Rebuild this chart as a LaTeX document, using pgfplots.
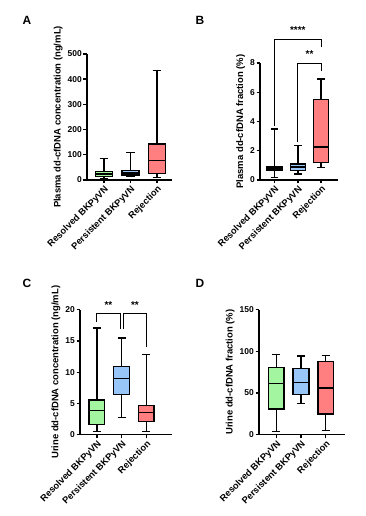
\documentclass[border=0pt]{standalone}
\usepackage{pgfplots}
\pgfplotsset{compat=1.18}
\usepgfplotslibrary{statistics}
\usepackage{fontspec}
\setmainfont{Liberation Sans}
\definecolor{cgreen}{HTML}{A3F5A0}
\definecolor{cblue}{HTML}{99C6F8}
\definecolor{cred}{HTML}{FF7F80}
\pgfplotsset{
  gp/.style={
    scale only axis,
    clip=false,
    axis x line*=bottom,
    axis y line*=left,
    axis line style={line width=1.5bp},
    every tick/.style={line width=1.4bp, black},
    tick align=outside,
    major tick length=3.5bp,
    xtick={1,2,3},
    xticklabels={Resolved BKPyVN,Persistent BKPyVN,Rejection},
    x tick label style={rotate=45, anchor=north east, font=\bfseries\fontsize{9.3}{10}\selectfont, inner sep=1bp},
    y tick label style={font=\bfseries\fontsize{8.5}{9}\selectfont, inner sep=1.5bp},
    /pgf/number format/assume math mode=true,
    ylabel style={font=\bfseries\fontsize{9.5}{11}\selectfont},
    ymin=0,
    boxplot/draw direction=y,
    boxplot/box extend=0.64,
    boxplot/whisker extend=0.32,
    every axis plot/.append style={line width=1.5bp, draw=black},
  }
}
\begin{document}
\begin{tikzpicture}
\path[use as bounding box] (0bp,0bp) rectangle (366bp,516bp);
\node[font=\bfseries\fontsize{12}{14}\selectfont] at (27bp,496bp) {A};
\node[font=\bfseries\fontsize{12}{14}\selectfont] at (200bp,496bp) {B};
\node[font=\bfseries\fontsize{12}{14}\selectfont] at (27bp,233bp) {C};
\node[font=\bfseries\fontsize{12}{14}\selectfont] at (200bp,233bp) {D};

% Panel A
\begin{axis}[gp, at={(87bp,336bp)}, anchor=south west, width=85bp, height=126bp,
  xmin=0.36, xmax=3.57, ymax=500, ytick={0,100,200,300,400,500},
  ylabel={Plasma dd-cfDNA concentration (ng/mL)}]
\addplot[fill=cgreen, boxplot prepared={draw position=1, median=24, upper quartile=34, lower quartile=13, upper whisker=86, lower whisker=4}] coordinates {};
\addplot[fill=cblue, boxplot prepared={draw position=2, median=27, upper quartile=37, lower quartile=19, upper whisker=110, lower whisker=14}] coordinates {};
\addplot[fill=cred, boxplot prepared={draw position=3, median=77, upper quartile=143, lower quartile=26, upper whisker=435, lower whisker=9}] coordinates {};
\end{axis}

% Panel B
\begin{axis}[gp, at={(260bp,336bp)}, anchor=south west, width=78bp, height=117bp,
  xmin=0.38, xmax=3.72, ymax=8, ytick={0,2,4,6,8},
  ylabel={Plasma dd-cfDNA fraction (\%)}]
\addplot[fill=cgreen, boxplot prepared={draw position=1, median=0.8, upper quartile=0.9, lower quartile=0.68, upper whisker=3.48, lower whisker=0.18}] coordinates {};
\addplot[fill=cblue, boxplot prepared={draw position=2, median=0.9, upper quartile=1.09, lower quartile=0.64, upper whisker=2.36, lower whisker=0.4}] coordinates {};
\addplot[fill=cred, boxplot prepared={draw position=3, median=2.27, upper quartile=5.5, lower quartile=1.2, upper whisker=6.9, lower whisker=0.86}] coordinates {};
\draw[line width=1bp] (axis cs:1,3.7) -- (axis cs:1,9.6) -- (axis cs:3,9.6) -- (axis cs:3,9.1);
\draw[line width=1bp] (axis cs:2,2.6) -- (axis cs:2,8.0) -- (axis cs:3,8.0) -- (axis cs:3,7.45);
\node[font=\bfseries\fontsize{10}{11}\selectfont, anchor=base] at (axis cs:2,10.0) {****};
\node[font=\bfseries\fontsize{10}{11}\selectfont, anchor=base] at (axis cs:2.5,8.4) {**};
\end{axis}

% Panel C
\begin{axis}[gp, at={(80bp,81.3bp)}, anchor=south west, width=92bp, height=125bp,
  xmin=0.32, xmax=4.04, ymax=20, ytick={0,5,10,15,20},
  ylabel={Urine dd-cfDNA concentration (ng/mL)}]
\addplot[fill=cgreen, boxplot prepared={draw position=1, median=3.84, upper quartile=5.55, lower quartile=1.6, upper whisker=17.07, lower whisker=0.48}] coordinates {};
\addplot[fill=cblue, boxplot prepared={draw position=2, median=8.96, upper quartile=10.9, lower quartile=6.4, upper whisker=15.5, lower whisker=2.77}] coordinates {};
\addplot[fill=cred, boxplot prepared={draw position=3, median=3.52, upper quartile=4.64, lower quartile=2.13, upper whisker=12.8, lower whisker=0.48}] coordinates {};
\draw[line width=1bp] (axis cs:1,18.1) -- (axis cs:1,19.36) -- (axis cs:1.94,19.36) -- (axis cs:1.94,16.9);
\draw[line width=1bp] (axis cs:2.08,16.9) -- (axis cs:2.08,19.36) -- (axis cs:3,19.36) -- (axis cs:3,14.1);
\node[font=\bfseries\fontsize{10}{11}\selectfont, anchor=base] at (axis cs:1.47,20.2) {**};
\node[font=\bfseries\fontsize{10}{11}\selectfont, anchor=base] at (axis cs:2.54,20.2) {**};
\end{axis}

% Panel D
\begin{axis}[gp, at={(259bp,81.3bp)}, anchor=south west, width=85.7bp, height=125bp,
  xmin=0.30, xmax=3.77, ymax=150, ytick={0,50,100,150},
  ylabel={Urine dd-cfDNA fraction (\%)}]
\addplot[fill=cgreen, boxplot prepared={draw position=1, median=61.2, upper quartile=80.8, lower quartile=30.8, upper whisker=96, lower whisker=3.6}] coordinates {};
\addplot[fill=cblue, boxplot prepared={draw position=2, median=62.8, upper quartile=79.2, lower quartile=48, upper whisker=94.4, lower whisker=37.2}] coordinates {};
\addplot[fill=cred, boxplot prepared={draw position=3, median=56, upper quartile=88, lower quartile=24.8, upper whisker=95.2, lower whisker=5.2}] coordinates {};
\end{axis}
\end{tikzpicture}
\end{document}
